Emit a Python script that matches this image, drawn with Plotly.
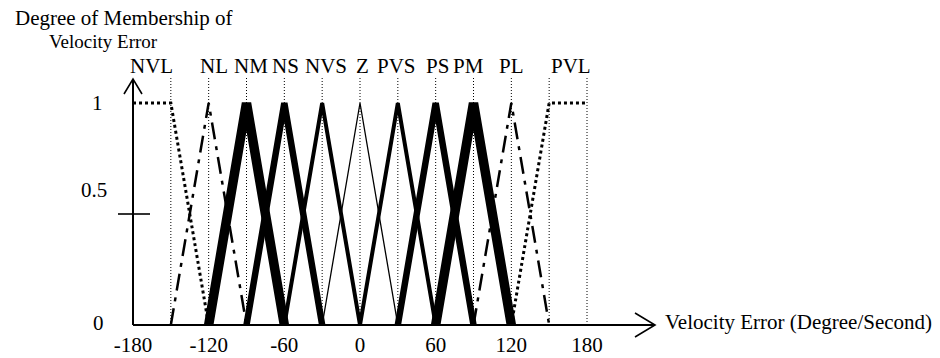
import plotly.graph_objects as go

# ---------------- data ----------------
labels = ["NVL", "NL", "NM", "NS", "NVS", "Z", "PVS", "PS", "PM", "PL", "PVL"]

NVL_x = [-180, -150, -120]
NL_x = [-150, -120, -90]
NM_x = [-120, -90, -60]
NS_x = [-90, -60, -30]
NVS_x = [-60, -30, 0]
Z_x = [-30, 0, 30]
PVS_x = [0, 30, 60]
PS_x = [30, 60, 90]
PM_x = [60, 90, 120]
PL_x = [90, 120, 150]
PVL_x = [120, 150, 180]

NVL_mu = [1, 1, 0]
TRI_mu = [0, 1, 0]
PVL_mu = [0, 1, 1]

x_tick_vals = [-180, -120, -60, 0, 60, 120, 180]
x_tick_text = ["-180", "-120", "-60", "0", "60", "120", "180"]
y_tick_vals = [0, 0.5, 1]
y_tick_text = ["0", "0.5", "1"]

series_x = [NVL_x, NL_x, NM_x, NS_x, NVS_x, Z_x, PVS_x, PS_x, PM_x, PL_x, PVL_x]
series_mu = [NVL_mu] + [TRI_mu] * 9 + [PVL_mu]

# ---------------- styles / layout ----------------
W, H = 940, 358
FONT = "Liberation Serif, Times New Roman, serif"
FS = 21
X0_PX, X180_PX = 133, 587      # pixel of x=-180 and x=180
Y0_PX, Y1_PX = 325, 103        # pixel of mu=0 and mu=1
sx = (X180_PX - X0_PX) / 360.0
sy = (Y0_PX - Y1_PX) / 1.0
x_range = [-180 - X0_PX / sx, -180 + (W - X0_PX) / sx]
y_range = [-(H - Y0_PX) / sy, Y0_PX / sy]


def px2x(px):
    return -180 + (px - X0_PX) / sx


def px2y(py):
    return (Y0_PX - py) / sy


styles = {
    "NVL": dict(width=3, dash="3px,3px"),
    "NL": dict(width=2.5, dash="17px,7px,4px,7px"),
    "NM": dict(width=9.5, dash="solid"),
    "NS": dict(width=6.5, dash="solid"),
    "NVS": dict(width=4, dash="solid"),
    "Z": dict(width=1.3, dash="solid"),
    "PVS": dict(width=4, dash="solid"),
    "PS": dict(width=6.5, dash="solid"),
    "PM": dict(width=9.5, dash="solid"),
    "PL": dict(width=2.5, dash="17px,7px,4px,7px"),
    "PVL": dict(width=3, dash="3px,3px"),
}
label_xshift = [0, 5, 4, 1, 4, 2, -1, 2, -5, 0, 3]

fig = go.Figure()

# vertical dotted guide lines at each x with full membership
guide_top = px2y(77)
guides = []
for xs, mus in zip(series_x, series_mu):
    for xv, m in zip(xs, mus):
        if m == 1 and xv != -180 and xv not in guides:
            guides.append(xv)
for gx in guides:
    fig.add_trace(go.Scatter(x=[gx, gx], y=[0, guide_top], mode="lines",
                             line=dict(color="black", width=1, dash="1px,2px"),
                             hoverinfo="skip", showlegend=False))

# membership functions
for name, xs, mus in zip(labels, series_x, series_mu):
    st = styles[name]
    fig.add_trace(go.Scatter(x=xs, y=mus, mode="lines", name=name,
                             line=dict(color="black", width=st["width"], dash=st["dash"]),
                             showlegend=False))

# axes with arrows
y_tip = px2y(79)
x_tip = px2x(655)
shapes = [
    dict(type="line", x0=-180, y0=0, x1=-180, y1=y_tip, line=dict(color="black", width=2)),
    dict(type="line", x0=-180, y0=0, x1=x_tip, y1=0, line=dict(color="black", width=2)),
    dict(type="path",
         path=f"M {-180 - 9 / sx} {y_tip - 15 / sy} L -180 {y_tip} L {-180 + 9 / sx} {y_tip - 15 / sy}",
         line=dict(color="black", width=1.6)),
    dict(type="path",
         path=f"M {x_tip - 20 / sx} {12 / sy} L {x_tip} 0 L {x_tip - 20 / sx} {-12 / sy}",
         line=dict(color="black", width=1.6)),
    dict(type="line", x0=px2x(118), y0=0.5, x1=px2x(150), y1=0.5,
         line=dict(color="black", width=1.6)),
]

annotations = []
# y tick labels
y_lab_dx = [-35, -39, -36]
y_lab_dy = [2, 24, 0]
for v, t, dx, dy in zip(y_tick_vals, y_tick_text, y_lab_dx, y_lab_dy):
    annotations.append(dict(x=-180, y=v, text=t, showarrow=False, xanchor="center",
                            yanchor="middle", xshift=dx, yshift=dy,
                            font=dict(family=FONT, size=FS, color="black")))

# membership labels
for name, xs, mus, dx in zip(labels, series_x, series_mu, label_xshift):
    core = [xv for xv, m in zip(xs, mus) if m == 1]
    cx = sum(core) / len(core)
    annotations.append(dict(x=cx, y=px2y(66), text=name, showarrow=False,
                            xanchor="center", yanchor="middle", xshift=dx,
                            font=dict(family=FONT, size=FS, color="black")))

# axis titles
annotations.append(dict(x=px2x(13), y=px2y(18), text="Degree of Membership of", showarrow=False,
                        xanchor="left", yanchor="middle",
                        font=dict(family=FONT, size=FS, color="black")))
annotations.append(dict(x=px2x(47), y=px2y(41), text="Velocity Error", showarrow=False,
                        xanchor="left", yanchor="middle",
                        font=dict(family=FONT, size=19, color="black")))
annotations.append(dict(x=px2x(663), y=px2y(322), text="Velocity Error (Degree/Second)",
                        showarrow=False, xanchor="left", yanchor="middle",
                        font=dict(family=FONT, size=FS, color="black")))

fig.update_layout(
    width=W, height=H,
    margin=dict(l=0, r=0, t=0, b=0),
    paper_bgcolor="white", plot_bgcolor="white",
    showlegend=False,
    shapes=shapes,
    annotations=annotations,
    xaxis=dict(range=x_range, showgrid=False, zeroline=False, showline=False,
               tickmode="array", tickvals=x_tick_vals, ticktext=x_tick_text,
               ticks="", anchor="free", position=(H - Y0_PX) / H,
               ticklabelstandoff=5,
               tickfont=dict(family=FONT, size=FS, color="black"),
               fixedrange=True),
    yaxis=dict(range=y_range, visible=False, fixedrange=True),
)

fig.write_html("out.html",
               config={"displayModeBar": False, "staticPlot": True},
               post_script="document.body.style.margin='0';document.body.style.overflow='hidden';")
